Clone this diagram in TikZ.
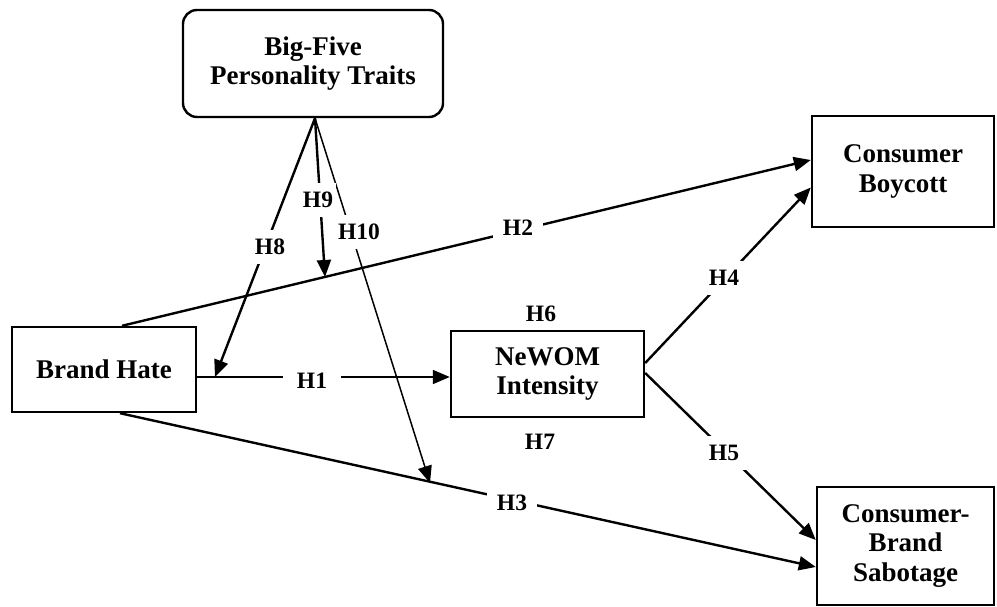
\documentclass[tikz,border=0pt]{standalone}
\usepackage{fontspec}
\setmainfont{Liberation Serif}
\usetikzlibrary{arrows.meta,calc}

\tikzset{
  construct/.style={draw, line width=2.4pt, align=center, inner sep=0pt,
    font=\bfseries\fontsize{27}{29.5}\selectfont},
  hyptext/.style={inner xsep=10pt, inner ysep=9pt,
    font=\bfseries\fontsize{23.5}{25}\selectfont},
  hyp/.style={hyptext, fill=white},
  link/.style={line width=2.4pt, -{Triangle[length=17pt,width=14pt]}},
}

\begin{document}
\begin{tikzpicture}[x=1pt,y=-1pt]
\useasboundingbox (0,0) rectangle (997,607);

% constructs
\node[construct, rounded corners=14pt, minimum width=260pt, minimum height=107pt]
  (bf) at (313,63.5) {Big-Five\\Personality Traits};
\node[construct, minimum width=184pt, minimum height=85pt]
  (bh) at (104,369.5) {Brand Hate};
\node[construct, minimum width=193pt, minimum height=86pt]
  (nw) at (547.5,374) {NeWOM\\Intensity};
\node[construct, minimum width=182pt, minimum height=111pt]
  (cb) at (903,171.5) {Consumer\\Boycott};
\node[construct, minimum width=177pt, minimum height=118pt]
  (cs) at (905.5,546) {Consumer-\\Brand\\Sabotage};

% anchor points of the paths
\coordinate (apex) at ($(bf.south)+(2,0)$);
\coordinate (h1s)  at ($(bh.east)+(0,7.5)$);
\coordinate (h1e)  at (h1s -| nw.west);
\coordinate (h2s)  at ($(bh.north)+(18,0)$);
\coordinate (h2e)  at ($(cb.west)+(0,-11.5)$);
\coordinate (h3s)  at ($(bh.south)+(16,0)$);
\coordinate (h3e)  at ($(cs.west)+(0,21)$);
\coordinate (h4s)  at ($(nw.east)+(0,-11)$);
\coordinate (h4e)  at ($(cb.west)+(0,16)$);
\coordinate (h5s)  at ($(nw.east)+(0,-1)$);
\coordinate (h5e)  at ($(cs.west)+(0,-6)$);
\coordinate (m8)   at (215,377);
\coordinate (m9)   at (325,277);
\coordinate (m10)  at (430,483);

% direct paths
\draw[link, line width=1.8pt] (h1s) -- (h1e);
\draw[link] (h2s) -- (h2e);
\draw[link] (h3s) -- (h3e);
\draw[link] (h4s) -- (h4e);
\draw[link] (h5s) -- (h5e);

% moderating paths
\draw[link] (apex) -- (m8);
\draw[link] (apex) -- (m9);
\draw[link, line width=1.5pt] (apex) -- (m10);

% hypothesis labels (those on a path break it)
\node[hyp, inner xsep=14pt] (l1) at (312,381) {H1};
\node[hyp] (l2)  at (518,228) {H2};
\node[hyp] (l3)  at (512,503) {H3};
\node[hyp] (l4)  at (724,278) {H4};
\node[hyp] (l5)  at (724,453) {H5};
\node[hyptext] (l6) at (541,314) {H6};
\node[hyptext] (l7) at (540,442) {H7};
\node[hyp] (l8)  at (270,247) {H8};
\node[hyp, inner xsep=3pt] (l9) at (318,200) {H9};
\node[hyp, inner xsep=6pt] (l10) at (359,232) {H10};
\end{tikzpicture}
\end{document}
